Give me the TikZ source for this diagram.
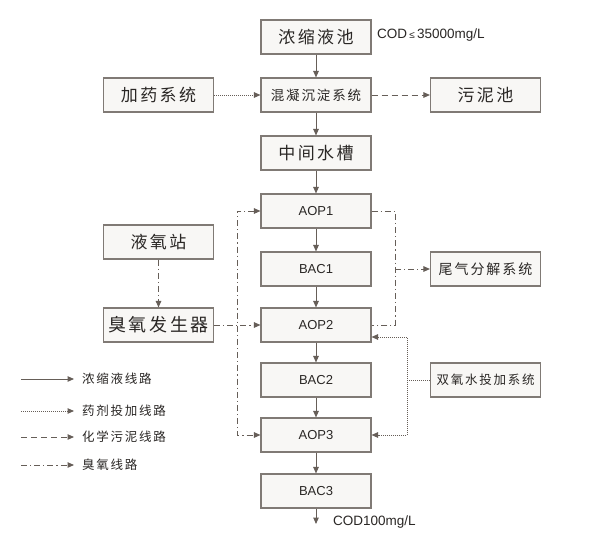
\documentclass[tikz,border=0pt]{standalone}
\usepackage{fontspec}
\setmainfont{Liberation Sans}
\newfontfamily\cjk[LetterSpace=14]{Noto Sans CJK SC}
\usetikzlibrary{arrows.meta,calc,shadows}
\definecolor{lc}{HTML}{665E58}
\definecolor{bc}{HTML}{807A75}
\definecolor{bf}{HTML}{F8F7F5}
\definecolor{tc}{HTML}{2A2725}
\begin{document}
\begin{tikzpicture}[x=1pt,y=-1pt,
  box/.style={draw=bc,line width=1.1pt,fill=bf,minimum width=110pt,minimum height=34pt,inner sep=0pt,text=tc,
    drop shadow={shadow xshift=0.8pt,shadow yshift=-0.8pt,opacity=0.25}},
  big/.style={font=\cjk\fontsize{17}{17}\selectfont},
  mid/.style={font=\cjk\fontsize{14}{14}\selectfont},
  sml/.style={font=\cjk\fontsize{12.5}{12.5}\selectfont},
  lat/.style={font=\fontsize{13}{13}\selectfont},
  ln/.style={draw=lc,line width=1pt},
  tip/.style={-{Triangle[length=6.5pt,width=5.5pt]}},
  btip/.style={{Triangle[length=6.5pt,width=5.5pt]}-{Triangle[length=6.5pt,width=5.5pt]}},
  solidline/.style={ln},
  dotline/.style={ln,dash pattern=on 1pt off 1pt},
  dashline/.style={ln,dash pattern=on 6pt off 4pt},
  dashdot/.style={ln,dash pattern=on 6pt off 3pt on 1.2pt off 3pt},
  lbl/.style={text=tc,inner sep=0pt}
]
\useasboundingbox[fill=white] (0,0) rectangle (602,538);

% main column
\node[box,big] (pool) at (316,37) {浓缩液池};
\node[box,font=\cjk\fontsize{13.5}{13.5}\selectfont] (coag) at (316,95) {混凝沉淀系统};
\node[box,big] (dose) at (158.5,95) {加药系统};
\node[box,big] (sludge) at (485.5,95) {污泥池};
\node[box,big] (tank) at (316,153) {中间水槽};
\node[box,lat] (aop1) at (316,211) {AOP1};
\node[box,lat] (bac1) at (316,269) {BAC1};
\node[box,lat] (aop2) at (316,325) {AOP2};
\node[box,lat] (bac2) at (316,380) {BAC2};
\node[box,lat] (aop3) at (316,435) {AOP3};
\node[box,lat] (bac3) at (316,491) {BAC3};
\node[box,big] (lox) at (158.5,242) {液氧站};
\node[box,font=\cjk\fontsize{18}{18}\selectfont] (ozg) at (158.5,325) {臭氧发生器};
\node[box,mid] (tail) at (485.5,269) {尾气分解系统};
\node[box,sml] (hp) at (485.5,380) {双氧水投加系统};

\node[lbl,font=\fontsize{13.5}{13.5}\selectfont,anchor=west] (codin) at (377,35) {COD\,{\fontsize{10}{10}\selectfont ≤}\,35000mg/L};
\coordinate (out) at (316,524);
\node[lbl,font=\fontsize{13.5}{13.5}\selectfont,anchor=west] (codout) at (333,522) {COD100mg/L};

% concentrate line
\draw[solidline,tip] (pool) -- (coag);
\draw[solidline,tip] (coag) -- (tank);
\draw[solidline,tip] (tank) -- (aop1);
\draw[solidline,tip] (aop1) -- (bac1);
\draw[solidline,tip] (bac1) -- (aop2);
\draw[solidline,tip] (aop2) -- (bac2);
\draw[solidline,tip] (bac2) -- (aop3);
\draw[solidline,tip] (aop3) -- (bac3);
\draw[solidline,tip] (bac3) -- (out);

% dosing / sludge
\draw[dotline,tip] (dose) -- (coag);
\draw[dashline,tip] (coag) -- (sludge);

% ozone
\draw[dashdot,tip] (lox) -- (ozg);
\draw[dashdot,tip] (ozg) -- (aop2);
\coordinate (lt) at (237,211);
\coordinate (lb) at (237,435);
\draw[dashdot,btip] (aop1.west) -- (lt) -- (lb) -- (aop3.west);
\coordinate (rt) at (395,211);
\coordinate (rb) at (395,325);
\coordinate (rm) at (395,269);
\draw[dashdot] (aop1.east) -- (rt) -- (rb) -- (aop2.east);
\draw[dashdot,tip] (rm) -- (tail);

% hydrogen peroxide
\coordinate (pt) at (407,337);
\coordinate (pb) at (407,435);
\coordinate (pm) at (407,380);
\draw[dotline,btip] ($(aop2.east)+(0,12)$) -- (pt) -- (pb) -- (aop3.east);
\draw[dotline] (hp) -- (pm);

% legend
\foreach \i/\y/\st in {1/379/solidline,2/411/dotline,3/437/dashline,4/465/dashdot}{
  \coordinate (ls\i) at (21,\y);
  \coordinate (le\i) at (74,\y);
  \draw[\st,tip] (ls\i) -- (le\i);
}
\node[lbl,sml,anchor=west] (t1) at (82,379) {浓缩液线路};
\node[lbl,sml,anchor=west] (t2) at (82,411) {药剂投加线路};
\node[lbl,sml,anchor=west] (t3) at (82,437) {化学污泥线路};
\node[lbl,sml,anchor=west] (t4) at (82,465) {臭氧线路};
\end{tikzpicture}
\end{document}
